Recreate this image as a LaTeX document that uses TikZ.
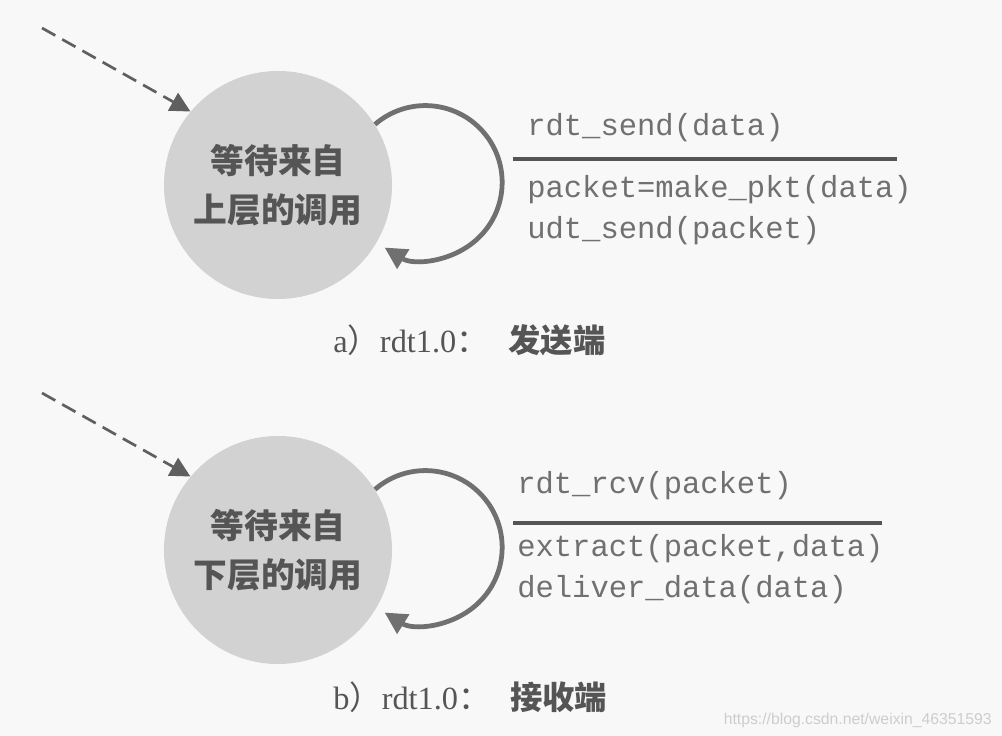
\documentclass[tikz,border=0pt]{standalone}
\usepackage{fontspec}
\setmainfont{Liberation Serif}
\setmonofont{Liberation Mono}
\newfontfamily\cjk{Noto Sans CJK SC}
\usepackage{xcolor}
\usepackage{tikz}
\usetikzlibrary{arrows.meta,positioning}

\definecolor{fondo}{RGB}{248,248,248}
\definecolor{relleno}{RGB}{210,210,210}
\definecolor{trazo}{RGB}{112,112,112}
\definecolor{tinta}{RGB}{85,85,85}
\definecolor{marca}{RGB}{205,205,205}

\begin{document}
\begin{tikzpicture}[
    x=0.025cm, y=-0.025cm,
    estado/.style={circle, fill=relleno, minimum size=5.7cm, inner sep=0pt,
                   align=center, text=tinta,
                   font=\cjk\bfseries\fontsize{24}{35}\selectfont},
    flecha/.style={-{Triangle[length=5mm, width=5mm]}, draw=trazo!85!black,
                   line width=1.9pt, dash pattern=on 0.38cm off 0.2cm},
    bucle/.style={-{Triangle[length=5.5mm, width=5.5mm]}, draw=trazo,
                  line width=3.4pt},
    etiq/.style={font=\ttfamily\fontsize{21.7}{28.5}\selectfont, text=trazo,
                 inner sep=0pt, align=left},
    raya/.style={draw=tinta, line width=2.2pt},
    pie/.style={font=\fontsize{23}{28}\selectfont, text=tinta, inner sep=0pt},
    sello/.style={font=\fontspec{Liberation Sans}\fontsize{11.2}{13}\selectfont,
                  text=marca, inner sep=0pt}
  ]
    \fill[fondo] (0,0) rectangle (1002,736);
    \useasboundingbox (0,0) rectangle (1002,736);

    \node[estado] (e1) at (278,185) {等待来自\\上层的调用};
    \node[estado] (e2) at (278,550) {等待来自\\下层的调用};
    \coordinate (i1) at (42,28);
    \coordinate (i2) at (42,393);
    \draw[flecha] (i1) -- (e1.140);
    \draw[flecha] (i2) -- (e2.140);
    \draw[bucle] (e1.32) arc[start angle=131, end angle=-122, radius=1.92cm];
    \draw[bucle] (e2.32) arc[start angle=131, end angle=-122, radius=1.92cm];

    \node[etiq, anchor=base west] (ev1) at (527,136) {rdt\_send(data)};
    \coordinate (r1a) at (513,159);
    \coordinate (r1b) at (897,159);
    \draw[raya] (r1a) -- (r1b);
    \node[etiq, anchor=base west] (ac1) at (527,238) {packet=make\_pkt(data)\\udt\_send(packet)};

    \node[etiq, anchor=base west] (ev2) at (517,493) {rdt\_rcv(packet)};
    \coordinate (r2a) at (513,523);
    \coordinate (r2b) at (882,523);
    \draw[raya] (r2a) -- (r2b);
    \node[etiq, anchor=base west] (ac2) at (517,597) {extract(packet,data)\\deliver\_data(data)};

    \node[pie, anchor=base west] (pa) at (333,352) {a{\cjk ）}rdt1.0{\cjk ：}\hspace{14pt}{\cjk\bfseries 发送端}};
    \node[pie, anchor=base west] (pb) at (333,709) {b{\cjk ）}rdt1.0{\cjk ：}\hspace{14pt}{\cjk\bfseries 接收端}};
    \node[sello, anchor=base east] (wm) at (992,724) {https://blog.csdn.net/weixin\_46351593};
  \end{tikzpicture}
\end{document}
